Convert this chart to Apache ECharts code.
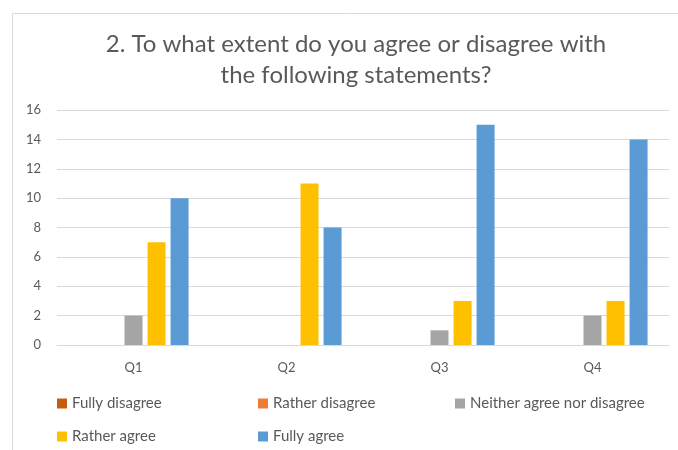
<!DOCTYPE html>
<html><head><meta charset="utf-8">
<script src="https://cdn.jsdelivr.net/npm/echarts@6/dist/echarts.min.js"></script>
<style>html,body{margin:0;padding:0;background:#fff}#c{width:678px;height:450px}</style>
</head><body><div id="c"></div>
<script>
var categories = ['Q1', 'Q2', 'Q3', 'Q4'];
var seriesNames = ['Fully disagree', 'Rather disagree', 'Neither agree nor disagree', 'Rather agree', 'Fully agree'];
var fullyDisagree = [0, 0, 0, 0];
var ratherDisagree = [0, 0, 0, 0];
var neither = [2, 0, 1, 2];
var ratherAgree = [7, 11, 3, 3];
var fullyAgree = [10, 8, 15, 14];
var yTicks = [0, 2, 4, 6, 8, 10, 12, 14, 16];

var values = [fullyDisagree, ratherDisagree, neither, ratherAgree, fullyAgree];
var colors = ['#C55A11', '#ED7D31', '#A5A5A5', '#FFC000', '#5B9BD5'];
var font = 'Lato, "Open Sans", sans-serif';
var legendPos = [[57, 396], [258, 396], [455, 396], [57, 429], [258, 429]];

var chart = echarts.init(document.getElementById('c'));
chart.setOption({
  animation: false,
  graphic: [{type: 'rect', shape: {x: 12.5, y: 13.5, width: 800, height: 600}, style: {fill: 'none', stroke: '#d9d9d9', lineWidth: 1}, silent: true, z: -1}],
  title: {
    text: '2. To what extent do you agree or disagree with\nthe following statements?',
    left: 351, top: 24, textAlign: 'center',
    textStyle: {fontFamily: font, fontSize: 24, fontWeight: 'normal', color: '#595959', lineHeight: 31}
  },
  legend: seriesNames.map(function (n, i) {
    return {data: [n], left: legendPos[i][0], top: legendPos[i][1], padding: 0, icon: 'rect', itemWidth: 10, itemHeight: 10, itemGap: 0,
      textStyle: {fontFamily: font, fontSize: 15, lineHeight: 14, color: '#595959'}};
  }),
  grid: {left: 57, right: 9, top: 110, bottom: 105, containLabel: false},
  xAxis: {
    type: 'category', data: categories,
    axisLine: {lineStyle: {color: '#d9d9d9'}}, axisTick: {show: false},
    axisLabel: {fontFamily: font, fontSize: 13, color: '#595959', margin: 16}
  },
  yAxis: {
    type: 'value', min: yTicks[0], max: yTicks[yTicks.length - 1], interval: 2,
    axisLine: {show: false}, axisTick: {show: false},
    splitLine: {lineStyle: {color: '#d9d9d9'}},
    axisLabel: {fontFamily: font, fontSize: 13, color: '#595959', margin: 16}
  },
  series: seriesNames.map(function (n, i) {
    return {name: n, type: 'bar', data: values[i], barWidth: 18, barGap: '28%', itemStyle: {color: colors[i]}};
  })
});
</script></body></html>
